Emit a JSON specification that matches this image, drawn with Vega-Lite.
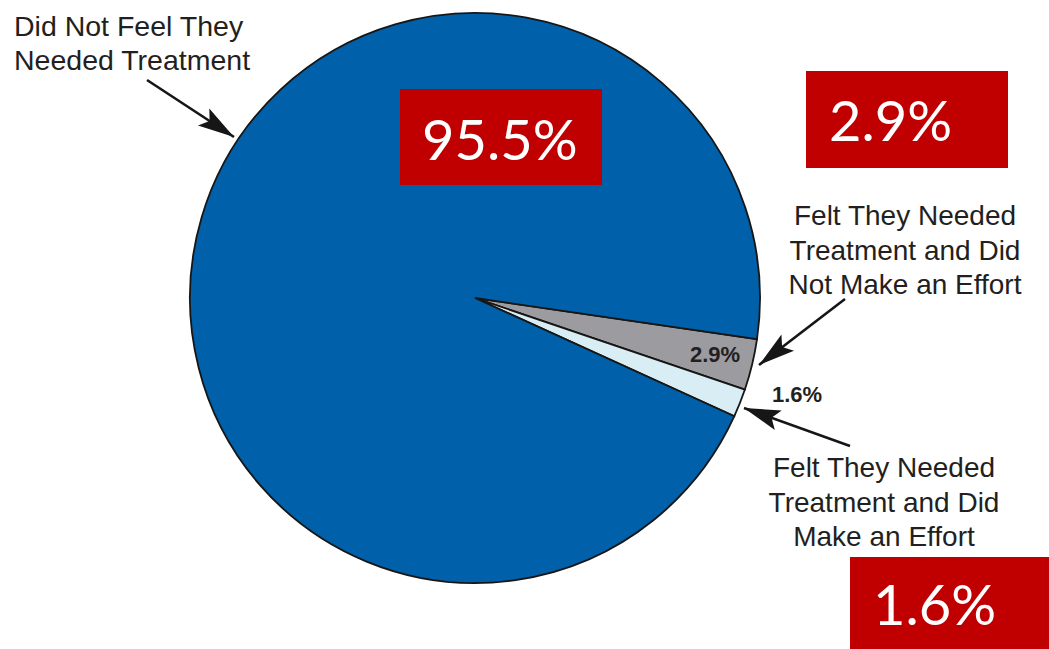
{
  "$schema": "https://vega.github.io/schema/vega-lite/v6.json",
  "width": 1049,
  "height": 649,
  "padding": 0,
  "autosize": {"type": "fit", "contains": "padding"},
  "background": "#ffffff",
  "config": {"view": {"stroke": null}},
  "datasets": {
    "pie": [
      {"category": "Felt They Needed Treatment and Did Not Make an Effort", "value": 2.9, "ord": 1},
      {"category": "Felt They Needed Treatment and Did Make an Effort", "value": 1.6, "ord": 2},
      {"category": "Did Not Feel They Needed Treatment", "value": 95.5, "ord": 3}
    ],
    "boxes": [
      {"label": "95.5%", "x0": 400, "x1": 602, "y0": 89, "y1": 185, "tx": 422, "ty": 160},
      {"label": "2.9%", "x0": 806, "x1": 1008, "y0": 71, "y1": 168, "tx": 829, "ty": 141},
      {"label": "1.6%", "x0": 850, "x1": 1049, "y0": 557, "y1": 649, "tx": 873, "ty": 625}
    ],
    "leftLabels": [
      {"text": "Did Not Feel They\nNeeded Treatment", "x": 14, "y": 36}
    ],
    "centerLabels": [
      {"text": "Felt They Needed\nTreatment and Did\nNot Make an Effort", "x": 905, "y": 225},
      {"text": "Felt They Needed\nTreatment and Did\nMake an Effort", "x": 884, "y": 477}
    ],
    "smallLabels": [
      {"text": "2.9%", "x": 715, "y": 362},
      {"text": "1.6%", "x": 797, "y": 402}
    ],
    "arrows": [
      {"x": 147, "y": 80, "tipx": 234, "tipy": 137, "angle": 123.4},
      {"x": 845, "y": 299, "tipx": 759, "tipy": 365, "angle": 232.2},
      {"x": 850, "y": 446, "tipx": 744, "tipy": 408, "angle": 289.6}
    ]
  },
  "layer": [
    {
      "data": {"name": "pie"},
      "mark": {"type": "arc", "outerRadius": 285, "stroke": "#161616", "strokeWidth": 1.8},
      "encoding": {
        "theta": {"field": "value", "type": "quantitative", "stack": true, "scale": {"range": [1.7157, 7.9989]}},
        "order": {"field": "ord", "type": "quantitative"},
        "color": {
          "field": "category", "type": "nominal", "legend": null,
          "scale": {
            "domain": ["Felt They Needed Treatment and Did Not Make an Effort", "Felt They Needed Treatment and Did Make an Effort", "Did Not Feel They Needed Treatment"],
            "range": ["#9b9ba0", "#d8eef4", "#0060a9"]
          }
        },
        "x": {"datum": 475, "type": "quantitative", "scale": {"domain": [0, 1049], "nice": false, "zero": false}, "axis": null},
        "y": {"datum": 298, "type": "quantitative", "scale": {"domain": [0, 649], "nice": false, "zero": false, "reverse": true}, "axis": null}
      }
    },
    {
      "data": {"name": "boxes"},
      "mark": {"type": "rect", "color": "#c00000"},
      "encoding": {
        "x": {"field": "x0", "type": "quantitative"},
        "x2": {"field": "x1"},
        "y": {"field": "y0", "type": "quantitative"},
        "y2": {"field": "y1"}
      }
    },
    {
      "data": {"name": "boxes"},
      "mark": {"type": "text", "align": "left", "baseline": "alphabetic", "font": "Lato", "fontSize": 56, "color": "#ffffff"},
      "encoding": {
        "x": {"field": "tx", "type": "quantitative"},
        "y": {"field": "ty", "type": "quantitative"},
        "text": {"field": "label"}
      }
    },
    {
      "data": {"name": "leftLabels"},
      "mark": {"type": "text", "align": "left", "baseline": "alphabetic", "font": "Liberation Sans", "fontSize": 28.5, "lineHeight": 34, "lineBreak": "\n", "color": "#231f20"},
      "encoding": {
        "x": {"field": "x", "type": "quantitative"},
        "y": {"field": "y", "type": "quantitative"},
        "text": {"field": "text"}
      }
    },
    {
      "data": {"name": "centerLabels"},
      "mark": {"type": "text", "align": "center", "baseline": "alphabetic", "font": "Liberation Sans", "fontSize": 28, "lineHeight": 34.5, "lineBreak": "\n", "color": "#231f20"},
      "encoding": {
        "x": {"field": "x", "type": "quantitative"},
        "y": {"field": "y", "type": "quantitative"},
        "text": {"field": "text"}
      }
    },
    {
      "data": {"name": "smallLabels"},
      "mark": {"type": "text", "align": "center", "baseline": "alphabetic", "font": "Liberation Sans", "fontWeight": "bold", "fontSize": 22, "color": "#231f20"},
      "encoding": {
        "x": {"field": "x", "type": "quantitative"},
        "y": {"field": "y", "type": "quantitative"},
        "text": {"field": "text"}
      }
    },
    {
      "data": {"name": "arrows"},
      "mark": {"type": "rule", "color": "#161616", "strokeWidth": 2.6},
      "encoding": {
        "x": {"field": "x", "type": "quantitative"},
        "y": {"field": "y", "type": "quantitative"},
        "x2": {"field": "tipx"},
        "y2": {"field": "tipy"}
      }
    },
    {
      "data": {"name": "arrows"},
      "mark": {"type": "point", "shape": "M0,0L0.65,2.3L0,1.85L-0.65,2.3Z", "size": 1000, "filled": true, "color": "#161616", "opacity": 1, "strokeWidth": 0},
      "encoding": {
        "x": {"field": "tipx", "type": "quantitative"},
        "y": {"field": "tipy", "type": "quantitative"},
        "angle": {"field": "angle", "type": "quantitative", "scale": null}
      }
    }
  ]
}
